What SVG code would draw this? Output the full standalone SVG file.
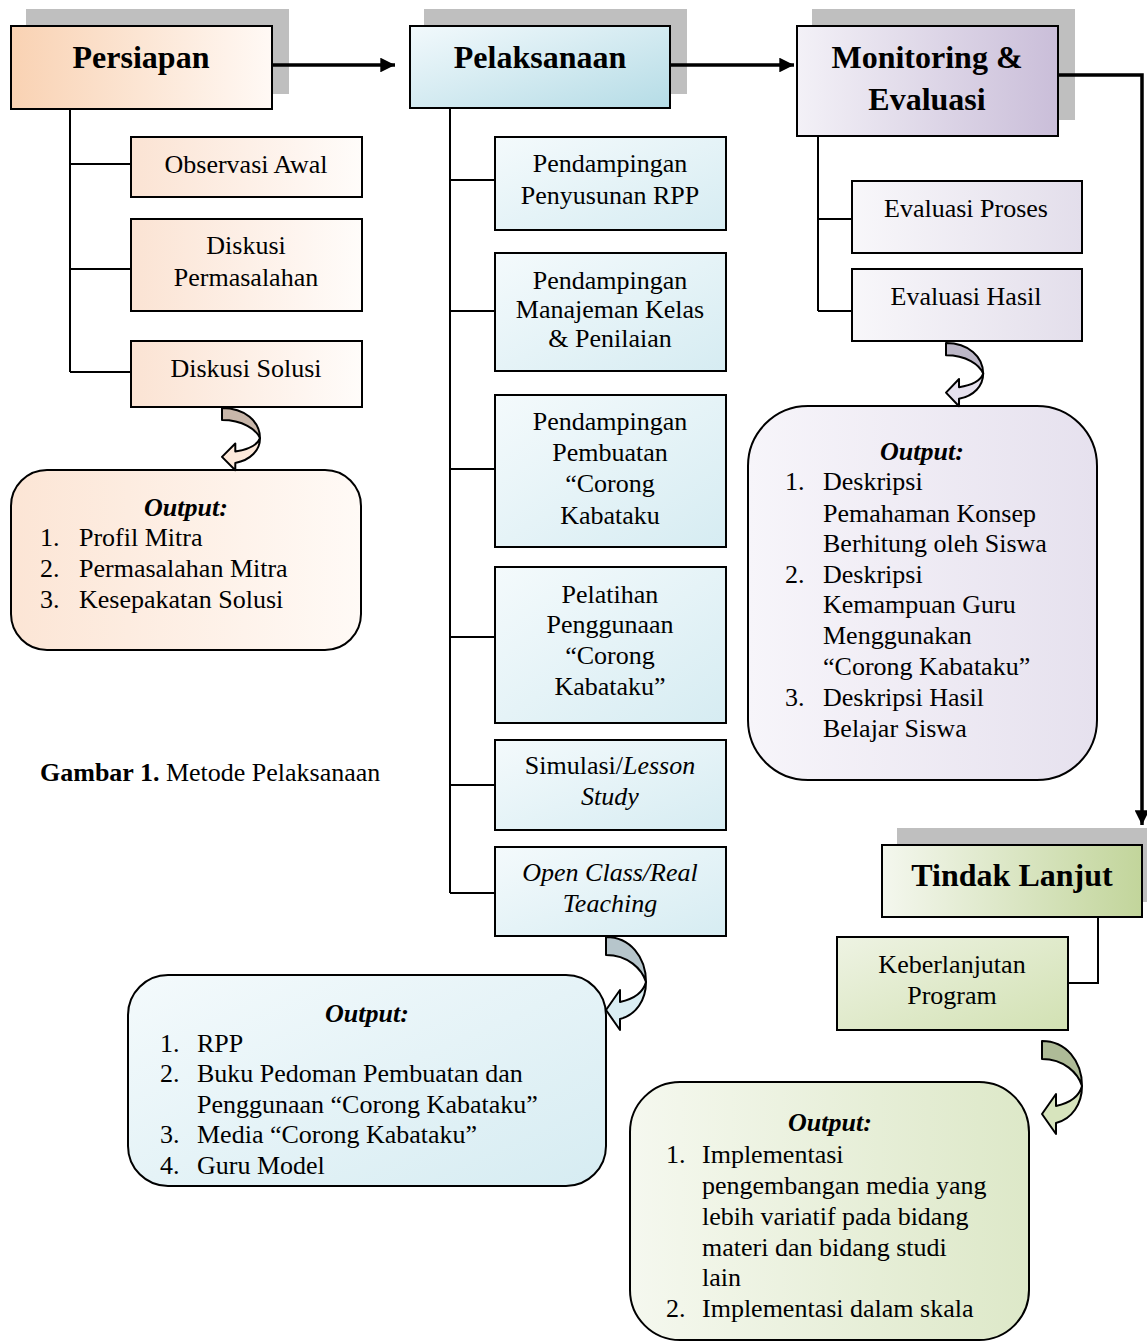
<svg xmlns="http://www.w3.org/2000/svg" width="1147" height="1343" viewBox="0 0 1147 1343">
<style>
text{font-family:"Liberation Serif","Times New Roman",serif;fill:#000}
.h{font-size:32px;font-weight:bold;text-anchor:middle}
.t{font-size:26px;text-anchor:middle}
.l{font-size:26px}
.o{font-size:26px;font-weight:bold;font-style:italic;text-anchor:middle}
.i{font-style:italic}
.box{stroke:#000;stroke-width:2}
.sh{fill:#bfbfbf}
.c{fill:none;stroke:#000;stroke-width:2}
.m{fill:none;stroke:#000;stroke-width:3.5}
.ca{stroke:#000;stroke-width:2;stroke-linejoin:round}
</style>
<defs>
<marker id="ah" viewBox="0 0 10 10" refX="10" refY="5" markerWidth="4.2" markerHeight="4.2" orient="auto" markerUnits="strokeWidth"><path d="M0,0 L10,5 L0,10 Z" fill="#000"/></marker>
<linearGradient id="gP" x1="0" y1="0" x2="1" y2="0"><stop offset="0" stop-color="#f9d2b3"/><stop offset="1" stop-color="#fff9f5"/></linearGradient>
<linearGradient id="gPs" x1="0" y1="0" x2="1" y2="0"><stop offset="0" stop-color="#fbe3d3"/><stop offset="1" stop-color="#fffcfa"/></linearGradient>
<linearGradient id="gPo" x1="0" y1="0" x2="1" y2="0"><stop offset="0" stop-color="#fce5d5"/><stop offset="1" stop-color="#fffaf6"/></linearGradient>
<linearGradient id="gL" x1="0" y1="0" x2="1" y2="1"><stop offset="0" stop-color="#f2f9fc"/><stop offset="1" stop-color="#b5dce6"/></linearGradient>
<linearGradient id="gLs" x1="0" y1="0" x2="1" y2="1"><stop offset="0" stop-color="#f4fafc"/><stop offset="1" stop-color="#d6ecf2"/></linearGradient>
<linearGradient id="gM" x1="0" y1="0" x2="1" y2="0"><stop offset="0" stop-color="#f3f1f7"/><stop offset="1" stop-color="#cabed9"/></linearGradient>
<linearGradient id="gMs" x1="0" y1="0" x2="1" y2="0"><stop offset="0" stop-color="#f8f7fa"/><stop offset="1" stop-color="#e3deeb"/></linearGradient>
<linearGradient id="gMo" x1="0" y1="0" x2="1" y2="0"><stop offset="0" stop-color="#f7f5fa"/><stop offset="1" stop-color="#e6e1ee"/></linearGradient>
<linearGradient id="gT" x1="0" y1="0" x2="1" y2="0"><stop offset="0" stop-color="#f4f7ee"/><stop offset="1" stop-color="#c2d59b"/></linearGradient>
<linearGradient id="gTs" x1="0" y1="0" x2="1" y2="1"><stop offset="0" stop-color="#eef3e3"/><stop offset="1" stop-color="#d2e1b3"/></linearGradient>
<linearGradient id="gTo" x1="0" y1="0" x2="1" y2="0"><stop offset="0" stop-color="#f5f8ef"/><stop offset="1" stop-color="#dde8c8"/></linearGradient>
<g id="carrow">
<path d="M0,0 C24,0 40,20 40,45 C36,32 22,18 0,18 Z" class="ca" fill="var(--dk)" vector-effect="non-scaling-stroke"/>
<path d="M40,45 C40,63 30,78 14,82 L14,93 L0,73 L14,53 L14,65 C28,62 37,56 40,45 Z" class="ca" fill="var(--lt)" vector-effect="non-scaling-stroke"/>
</g>
</defs>

<g id="persiapan">
<rect class="sh" x="26" y="9" width="263" height="85"/>
<rect class="box" x="11" y="26" width="261" height="83" fill="url(#gP)"/>
<text class="h" x="141" y="68">Persiapan</text>
</g>
<g id="observasi"><rect class="box" x="131" y="137" width="231" height="60" fill="url(#gPs)"/><text class="t" x="246" y="173">Observasi Awal</text></g>
<g id="diskusi-permasalahan"><rect class="box" x="131" y="219" width="231" height="92" fill="url(#gPs)"/><text class="t" x="246" y="254">Diskusi</text><text class="t" x="246" y="286">Permasalahan</text></g>
<g id="diskusi-solusi"><rect class="box" x="131" y="341" width="231" height="66" fill="url(#gPs)"/><text class="t" x="246" y="377">Diskusi Solusi</text></g>
<g id="output-persiapan">
<rect class="box" x="11" y="470" width="350" height="180" rx="36" fill="url(#gPo)"/>
<text class="o" x="186" y="516">Output:</text>
<text class="l" x="40" y="546">1.</text><text class="l" x="79" y="546">Profil Mitra</text>
<text class="l" x="40" y="577">2.</text><text class="l" x="79" y="577">Permasalahan Mitra</text>
<text class="l" x="40" y="608">3.</text><text class="l" x="79" y="608">Kesepakatan Solusi</text>
</g>
<g id="arrow-persiapan" style="--dk:#c8b6a9;--lt:#fde9da"><use href="#carrow" transform="translate(222,408) scale(0.95,0.67)"/></g>

<g id="pelaksanaan">
<rect class="sh" x="424" y="9" width="263" height="85"/>
<rect class="box" x="410" y="26" width="260" height="82" fill="url(#gL)"/>
<text class="h" x="540" y="68">Pelaksanaan</text>
</g>
<g id="penyusunan-rpp"><rect class="box" x="495" y="137" width="231" height="93" fill="url(#gLs)"/><text class="t" x="610" y="172">Pendampingan</text><text class="t" x="610" y="204">Penyusunan RPP</text></g>
<g id="manajemen-kelas"><rect class="box" x="495" y="253" width="231" height="118" fill="url(#gLs)"/><text class="t" x="610" y="289">Pendampingan</text><text class="t" x="610" y="318">Manajeman Kelas</text><text class="t" x="610" y="347">&amp; Penilaian</text></g>
<g id="pembuatan"><rect class="box" x="495" y="395" width="231" height="152" fill="url(#gLs)"/><text class="t" x="610" y="430">Pendampingan</text><text class="t" x="610" y="461">Pembuatan</text><text class="t" x="610" y="492">“Corong</text><text class="t" x="610" y="524">Kabataku</text></g>
<g id="pelatihan"><rect class="box" x="495" y="567" width="231" height="156" fill="url(#gLs)"/><text class="t" x="610" y="603">Pelatihan</text><text class="t" x="610" y="633">Penggunaan</text><text class="t" x="610" y="664">“Corong</text><text class="t" x="610" y="695">Kabataku”</text></g>
<g id="simulasi"><rect class="box" x="495" y="740" width="231" height="90" fill="url(#gLs)"/><text class="t" x="610" y="774">Simulasi/<tspan class="i">Lesson</tspan></text><text class="t i" x="610" y="805">Study</text></g>
<g id="open-class"><rect class="box" x="495" y="847" width="231" height="89" fill="url(#gLs)"/><text class="t i" x="610" y="881">Open Class/Real</text><text class="t i" x="610" y="912">Teaching</text></g>
<g id="output-pelaksanaan">
<rect class="box" x="128" y="975" width="478" height="211" rx="40" fill="url(#gLs)"/>
<text class="o" x="367" y="1022">Output:</text>
<text class="l" x="160" y="1052">1.</text><text class="l" x="197" y="1052">RPP</text>
<text class="l" x="160" y="1082">2.</text><text class="l" x="197" y="1082">Buku Pedoman Pembuatan dan</text>
<text class="l" x="197" y="1113">Penggunaan “Corong Kabataku”</text>
<text class="l" x="160" y="1143">3.</text><text class="l" x="197" y="1143">Media “Corong Kabataku”</text>
<text class="l" x="160" y="1174">4.</text><text class="l" x="197" y="1174">Guru Model</text>
</g>
<g id="arrow-pelaksanaan" style="--dk:#b6c5cb;--lt:#daeef3"><use href="#carrow" transform="translate(606,937)"/></g>

<g id="monitoring">
<rect class="sh" x="812" y="9" width="263" height="111"/>
<rect class="box" x="797" y="26" width="261" height="110" fill="url(#gM)"/>
<text class="h" x="927" y="68">Monitoring &amp;</text>
<text class="h" x="927" y="110">Evaluasi</text>
</g>
<g id="evaluasi-proses"><rect class="box" x="852" y="181" width="230" height="72" fill="url(#gMs)"/><text class="t" x="966" y="217">Evaluasi Proses</text></g>
<g id="evaluasi-hasil"><rect class="box" x="852" y="269" width="230" height="72" fill="url(#gMs)"/><text class="t" x="966" y="305">Evaluasi Hasil</text></g>
<g id="output-monitoring">
<rect class="box" x="748" y="406" width="349" height="374" rx="60" fill="url(#gMo)"/>
<text class="o" x="922" y="460">Output:</text>
<text class="l" x="785" y="490">1.</text><text class="l" x="823" y="490">Deskripsi</text>
<text class="l" x="823" y="522">Pemahaman Konsep</text>
<text class="l" x="823" y="552">Berhitung oleh Siswa</text>
<text class="l" x="785" y="583">2.</text><text class="l" x="823" y="583">Deskripsi</text>
<text class="l" x="823" y="613">Kemampuan Guru</text>
<text class="l" x="823" y="644">Menggunakan</text>
<text class="l" x="823" y="675">“Corong Kabataku”</text>
<text class="l" x="785" y="706">3.</text><text class="l" x="823" y="706">Deskripsi Hasil</text>
<text class="l" x="823" y="737">Belajar Siswa</text>
</g>
<g id="arrow-monitoring" style="--dk:#bcb7c7;--lt:#e6e1ee"><use href="#carrow" transform="translate(946,343) scale(0.93,0.68)"/></g>

<g id="tindak-lanjut">
<rect class="sh" x="897" y="828" width="250" height="74"/>
<rect class="box" x="882" y="845" width="260" height="72" fill="url(#gT)"/>
<text class="h" x="1012" y="886">Tindak Lanjut</text>
</g>
<g id="keberlanjutan"><rect class="box" x="837" y="937" width="231" height="93" fill="url(#gTs)"/><text class="t" x="952" y="973">Keberlanjutan</text><text class="t" x="952" y="1004">Program</text></g>
<g id="output-tindak">
<rect class="box" x="630" y="1082" width="399" height="258" rx="50" fill="url(#gTo)"/>
<text class="o" x="830" y="1131">Output:</text>
<text class="l" x="666" y="1163">1.</text><text class="l" x="702" y="1163">Implementasi</text>
<text class="l" x="702" y="1194">pengembangan media yang</text>
<text class="l" x="702" y="1225">lebih variatif pada bidang</text>
<text class="l" x="702" y="1256">materi dan bidang studi</text>
<text class="l" x="702" y="1286">lain</text>
<text class="l" x="666" y="1317">2.</text><text class="l" x="702" y="1317">Implementasi dalam skala</text>
</g>
<g id="arrow-tindak" style="--dk:#aebb97;--lt:#d7e4bd"><use href="#carrow" transform="translate(1042,1041)"/></g>

<g id="connectors">
<path class="m" d="M272,65 H395" marker-end="url(#ah)"/>
<path class="m" d="M670,65 H794" marker-end="url(#ah)"/>
<path class="m" d="M1058,75 H1142 V825" marker-end="url(#ah)"/>
<path class="c" d="M70,109 V372 M70,164 H131 M70,269 H131 M70,372 H131"/>
<path class="c" d="M450,108 V893 M450,180 H495 M450,311 H495 M450,469 H495 M450,637 H495 M450,785 H495 M450,893 H495"/>
<path class="c" d="M818,136 V311 M818,219 H852 M818,311 H852"/>
<path class="c" d="M1098,917 V983 H1068"/>
</g>

<text class="l" x="40" y="781"><tspan font-weight="bold">Gambar 1.</tspan> Metode Pelaksanaan</text>
</svg>
